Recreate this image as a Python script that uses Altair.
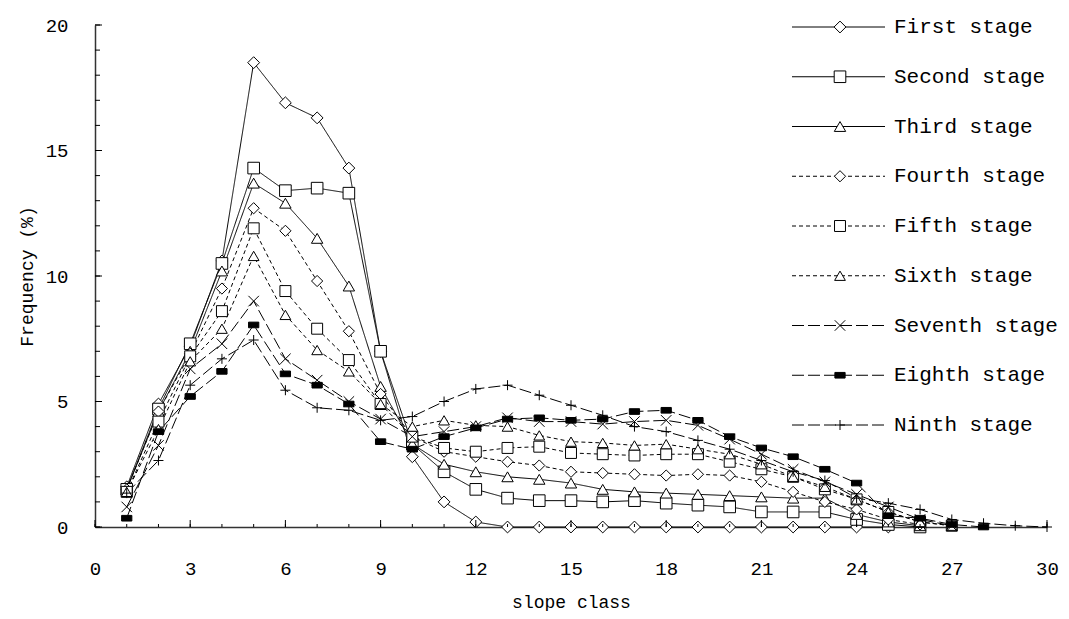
import altair as alt
import pandas as pd

stages = ["First stage", "Second stage", "Third stage", "Fourth stage", "Fifth stage",
          "Sixth stage", "Seventh stage", "Eighth stage", "Ninth stage"]

# values at slope class 1, 2, 3, ...
first = [1.6, 4.9, 7.2, 10.6, 18.5, 16.9, 16.3, 14.3, 7.0, 2.8, 1.0, 0.2,
         0, 0, 0, 0, 0, 0, 0, 0, 0, 0, 0, 0, 0]
second = [1.5, 4.7, 7.3, 10.5, 14.3, 13.4, 13.5, 13.3, 7.0, 3.3, 2.2, 1.5, 1.15,
          1.05, 1.05, 1.0, 1.05, 0.95, 0.87, 0.8, 0.6, 0.6, 0.6, 0.3, 0.1, 0.0]
third = [1.5, 4.6, 7.0, 10.2, 13.7, 12.9, 11.5, 9.6, 5.6, 3.3, 2.5, 2.2, 2.0,
         1.9, 1.75, 1.5, 1.4, 1.35, 1.3, 1.25, 1.2, 1.15, 1.15, 0.5, 0.2, 0.05]
fourth = [1.5, 4.6, 6.9, 9.5, 12.7, 11.8, 9.8, 7.8, 5.3, 3.6, 3.0, 2.8, 2.6,
          2.45, 2.2, 2.15, 2.1, 2.05, 2.1, 2.05, 1.8, 1.4, 1.0, 0.7, 0.3, 0.1]
fifth = [1.4, 4.2, 6.8, 8.6, 11.9, 9.4, 7.9, 6.65, 4.9, 3.6, 3.15, 3.0, 3.15,
         3.2, 2.95, 2.9, 2.85, 2.9, 2.9, 2.6, 2.3, 2.0, 1.5, 1.1, 0.6, 0.2, 0.05]
sixth = [1.4, 3.9, 6.6, 7.9, 10.8, 8.45, 7.05, 6.2, 4.9, 4.0, 4.25, 4.05, 4.0,
         3.65, 3.4, 3.35, 3.25, 3.3, 3.1, 2.9, 2.5, 2.0, 1.6, 1.1, 0.6, 0.2, 0.05]
seventh = [0.8, 3.25, 6.3, 7.3, 9.0, 6.7, 5.85, 5.0, 4.3, 3.6, 3.8, 4.0, 4.35,
           4.2, 4.2, 4.1, 4.2, 4.25, 4.05, 3.5, 2.9, 2.3, 1.8, 1.3, 0.8, 0.3, 0.05]
eighth = [0.35, 3.8, 5.2, 6.2, 8.05, 6.1, 5.65, 4.9, 3.4, 3.1, 3.6, 3.95, 4.3,
          4.35, 4.25, 4.3, 4.6, 4.65, 4.25, 3.6, 3.15, 2.8, 2.3, 1.75, 0.45, 0.35, 0.1, 0.0]
ninth = [1.35, 2.65, 5.65, 6.7, 7.45, 5.45, 4.75, 4.65, 4.25, 4.4, 5.0, 5.5, 5.65,
         5.25, 4.85, 4.45, 4.0, 3.8, 3.45, 3.1, 2.65, 2.2, 1.85, 1.15, 0.95, 0.7,
         0.3, 0.15, 0.05, 0.0]
series = [first, second, third, fourth, fifth, sixth, seventh, eighth, ninth]

x_labels = [0, 3, 6, 9, 12, 15, 18, 21, 24, 27, 30]
y_labels = [0, 5, 10, 15, 20]
x_minor = list(range(0, 31))
y_minor = list(range(0, 21))

rows = []
for name, vals in zip(stages, series):
    for i, v in enumerate(vals):
        rows.append({"stage": name, "slope": i + 1, "freq": v})
df = pd.DataFrame(rows)

W, H = 952, 502
FONT = "Liberation Mono"

xs = alt.Scale(domain=[0, 30], nice=False, zero=False)
ys = alt.Scale(domain=[0, 20], nice=False)

x_axis = alt.Axis(values=x_labels, title="slope class", ticks=False, grid=False,
                  labelPadding=32, titlePadding=15, labelFlush=False)

dash_scale = alt.Scale(domain=stages,
                       range=[[1, 0]] * 3 + [[4, 3]] * 3 + [[12, 4]] * 3)
shape_scale = alt.Scale(domain=stages,
                        range=["diamond", "square", "triangle-up"] * 2 +
                        ["M-1,-1L1,1M-1,1L1,-1", "M-1,-0.55H1V0.55H-1Z", "M-1,0H1M0,-1V1"])
fill_scale = alt.Scale(domain=stages, range=["white"] * 7 + ["black", "white"])
size_scale = alt.Scale(domain=stages, range=[140, 100, 110, 140, 100, 110, 50, 60, 90])

lines = alt.Chart(df).mark_line(color="black", strokeWidth=1).encode(
    x=alt.X("slope:Q", scale=xs, axis=x_axis),
    y=alt.Y("freq:Q", scale=ys,
            axis=alt.Axis(values=y_labels, title="Frequency (%)", ticks=False, grid=False,
                          labelPadding=27, titlePadding=9, labelFlush=False)),
    detail="stage:N",
    strokeDash=alt.StrokeDash("stage:N", scale=dash_scale, legend=None),
    order="slope:Q",
)

points = alt.Chart(df).mark_point(stroke="black", strokeWidth=1, opacity=1,
                                  fillOpacity=1).encode(
    x=alt.X("slope:Q", scale=xs, axis=x_axis),
    y=alt.Y("freq:Q", scale=ys, axis=None),
    shape=alt.Shape("stage:N", scale=shape_scale, legend=None),
    fill=alt.Fill("stage:N", scale=fill_scale, legend=None),
    size=alt.Size("stage:N", scale=size_scale, legend=None),
)

xmin_df = pd.DataFrame({"t": x_minor})
xmaj_df = pd.DataFrame({"t": x_labels})
ymin_df = pd.DataFrame({"t": y_minor})
ymaj_df = pd.DataFrame({"t": y_labels})

xt_minor = alt.Chart(xmin_df).mark_rule(color="black", strokeWidth=1).encode(
    x=alt.X("t:Q", scale=xs, axis=x_axis), y=alt.value(H), y2=alt.value(H - 3))
xt_major = alt.Chart(xmaj_df).mark_rule(color="black", strokeWidth=1).encode(
    x=alt.X("t:Q", scale=xs, axis=x_axis), y=alt.value(H), y2=alt.value(H - 7))
yt_minor = alt.Chart(ymin_df).mark_rule(color="black", strokeWidth=1).encode(
    y=alt.Y("t:Q", scale=ys, axis=None), x=alt.value(0), x2=alt.value(5))
yt_major = alt.Chart(ymaj_df).mark_rule(color="black", strokeWidth=1).encode(
    y=alt.Y("t:Q", scale=ys, axis=None), x=alt.value(0), x2=alt.value(7))

leg = pd.DataFrame({"stage": stages})
leg_y = alt.Y("stage:N", sort=stages,
              scale=alt.Scale(type="point", domain=stages, range=[2, 400], padding=0),
              axis=None)
leg_line = alt.Chart(leg).mark_rule(color="black", strokeWidth=1).encode(
    x=alt.value(697), x2=alt.value(790), y=leg_y,
    strokeDash=alt.StrokeDash("stage:N", scale=dash_scale, legend=None))
leg_pt = alt.Chart(leg).mark_point(stroke="black", strokeWidth=1, opacity=1,
                                   fillOpacity=1).encode(
    x=alt.value(745), y=leg_y,
    shape=alt.Shape("stage:N", scale=shape_scale, legend=None),
    fill=alt.Fill("stage:N", scale=fill_scale, legend=None),
    size=alt.Size("stage:N", scale=size_scale, legend=None))
leg_txt = alt.Chart(leg).mark_text(align="left", baseline="middle", font=FONT,
                                   fontSize=21, color="black").encode(
    x=alt.value(799), y=leg_y, text="stage:N")

chart = alt.layer(lines, points, xt_minor, xt_major, yt_minor, yt_major,
                  leg_line, leg_pt, leg_txt).resolve_scale(y="independent").properties(
    width=W, height=H,
    autosize=alt.AutoSizeParams(type="none"),
    padding={"left": 87, "top": 17, "right": 14, "bottom": 84},
    background="white",
).configure_view(stroke=None).configure_axis(
    domainColor="#333333", domainWidth=1.5,
    labelFont=FONT, labelFontSize=19, labelColor="black",
    titleFont=FONT, titleFontSize=18, titleFontWeight="normal", titleColor="black",
)

chart.save("out.html", embed_options={"renderer": "svg", "actions": False})
